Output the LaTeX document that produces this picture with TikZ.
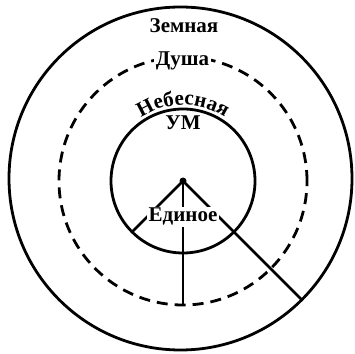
\documentclass[tikz,border=0pt]{standalone}
\usepackage{fontspec}
\setmainfont{Liberation Serif}
\usetikzlibrary{decorations.text,calc}
\begin{document}
\begin{tikzpicture}[x=1pt,y=1pt,
  ring/.style={line width=2.8pt},
  dashring/.style={line width=2.8pt, dash pattern=on 11pt off 7pt},
  spoke/.style={line width=2.5pt},
  lbl/.style={font=\bfseries\fontsize{21}{25}\selectfont, fill=white, inner sep=1.5pt, anchor=base},
  dotst/.style={circle, fill=black, inner sep=0pt, minimum size=7pt}]
\useasboundingbox (0,0) rectangle (355,353);
\coordinate (o) at (180.5,174.5);
\coordinate (c) at (183,172);
% circles
\draw[ring] (o) circle[radius=171.5];
\draw[dashring] (c) circle[radius=124];
\draw[ring] (c) circle[radius=72];
% spoke ends
\coordinate (eDown) at ($(c)+(0,-124)$);
\coordinate (eLeft) at ($(c)+(225:72)$);
\coordinate (eRight) at ($(c)+(-45:168)$);
\node[dotst] (dot) at (c) {};
\draw[spoke] (dot.center) -- (eDown);
\draw[spoke] (dot.center) -- (eLeft);
\draw[spoke] (dot.center) -- (eRight);
% labels
\node[lbl] (zem) at (184,320) {Земная};
\node[lbl] (dusha) at (182.5,287) {Душа};
\node[lbl, fill=none] (um) at (183,223) {УМ};
\node[lbl] (edin) at (183,131) {Единое};
\path[decorate, decoration={text along path, text align=center,
  text={|\bfseries\fontsize{21}{25}\selectfont|Небесная}}]
  ($(c)+(150:76)$) arc[start angle=150, end angle=30, radius=76];
\end{tikzpicture}
\end{document}
